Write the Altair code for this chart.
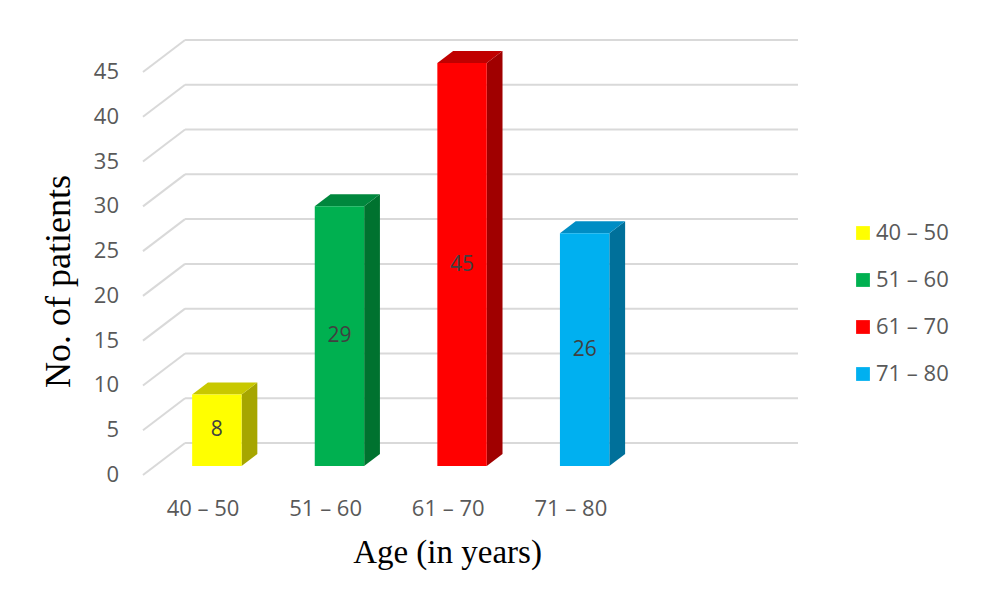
import altair as alt
import pandas as pd

# ---- data ----
categories = ["40 \u2013 50", "51 \u2013 60", "61 \u2013 70", "71 \u2013 80"]
patients = [8, 29, 45, 26]
front_colors = ["#FFFF00", "#00B050", "#FF0000", "#00B0F0"]
side_colors = ["#A6A600", "#00722F", "#A00000", "#00709A"]
top_colors = ["#C8C800", "#00873D", "#C00000", "#008DC4"]
y_ticks = [0, 5, 10, 15, 20, 25, 30, 35, 40, 45]

# ---- pseudo-3D geometry (style constants, in scale units) ----
N_BANDS = 5          # Excel leaves room for one more category
DX = 0.343           # horizontal depth of the floor (bands)
DY = 3.573           # vertical depth of the floor (value units)
Z0, Z1 = 0.28, 0.655 # bar front / back depth fractions
BL, BR = 0.305, 0.708  # bar left / right within band (front plane)
Y_MAX = max(y_ticks)

rows_front, rows_side, rows_top, rows_lab = [], [], [], []
for i, (c, v) in enumerate(zip(categories, patients)):
    l0, r0 = i + BL + Z0 * DX, i + BR + Z0 * DX
    l1, r1 = i + BL + Z1 * DX, i + BR + Z1 * DX
    b0, b1 = Z0 * DY, Z1 * DY
    t0, t1 = v + Z0 * DY, v + Z1 * DY
    rows_front.append(dict(cat=c, x=l0, x2=r0, y=b0, y2=t0))
    rows_side += [dict(cat=c, col=side_colors[i], x=r0, lo=b0, hi=t0),
                  dict(cat=c, col=side_colors[i], x=r1, lo=b1, hi=t1)]
    rows_top += [dict(cat=c, col=top_colors[i], x=l0, lo=t0, hi=t0),
                 dict(cat=c, col=top_colors[i], x=l1, lo=t0, hi=t1),
                 dict(cat=c, col=top_colors[i], x=r0, lo=t0, hi=t1),
                 dict(cat=c, col=top_colors[i], x=r1, lo=t1, hi=t1)]
    rows_lab.append(dict(x=(l0 + r0) / 2, y=v / 2 + Z0 * DY, text=str(v)))

front_df = pd.DataFrame(rows_front)
side_df = pd.DataFrame(rows_side)
top_df = pd.DataFrame(rows_top)
lab_df = pd.DataFrame(rows_lab)

back_df = pd.DataFrame(dict(x=[DX] * len(y_ticks), x2=[N_BANDS + DX] * len(y_ticks),
                            y=[t + DY for t in y_ticks], y2=[t + DY for t in y_ticks]))
diag_df = pd.DataFrame(dict(x=[0.0] * len(y_ticks), x2=[DX] * len(y_ticks),
                            y=[float(t) for t in y_ticks], y2=[t + DY for t in y_ticks]))
ytick_df = pd.DataFrame(dict(x=[0.0] * len(y_ticks), y=y_ticks, text=[str(t) for t in y_ticks]))
xlab_df = pd.DataFrame(dict(x=[i + 0.49 for i in range(len(categories))],
                            y=[0.0] * len(categories), text=categories))

xs = alt.Scale(domain=[0, N_BANDS + DX], nice=False, zero=False)
ys = alt.Scale(domain=[0, Y_MAX + DY], nice=False, zero=False)

x_axis = alt.Axis(title="Age (in years)", labels=False, ticks=False, domain=False, grid=False,
                  titleFont="Liberation Serif", titleFontSize=33, titleFontWeight="normal",
                  titleColor="#000000", titleX=304, titleY=87, titleAlign="center",
                  titleBaseline="alphabetic")
y_axis = alt.Axis(title="No. of patients", labels=False, ticks=False, domain=False, grid=False,
                  titleFont="Liberation Serif", titleFontSize=36, titleFontWeight="normal",
                  titleColor="#000000", titleX=-74, titleY=241, titleAngle=270,
                  titleAlign="center", titleBaseline="alphabetic")

X = lambda f="x": alt.X(f"{f}:Q", scale=xs, axis=x_axis)
Y = lambda f="y": alt.Y(f"{f}:Q", scale=ys, axis=y_axis)

grid_style = dict(color="#D9D9D9", strokeWidth=2)
back = alt.Chart(back_df).mark_rule(**grid_style).encode(x=X(), x2="x2:Q", y=Y(), y2="y2:Q")
diag = alt.Chart(diag_df).mark_rule(**grid_style).encode(x=X(), x2="x2:Q", y=Y(), y2="y2:Q")

side = alt.Chart(side_df).mark_area(interpolate="linear").encode(
    x=X(), y=alt.Y("lo:Q", scale=ys, axis=y_axis, stack=None), y2="hi:Q",
    color=alt.Color("col:N", scale=None), detail="cat:N")
top = alt.Chart(top_df).mark_area(interpolate="linear").encode(
    x=X(), y=alt.Y("lo:Q", scale=ys, axis=y_axis, stack=None), y2="hi:Q",
    color=alt.Color("col:N", scale=None), detail="cat:N")

front = alt.Chart(front_df).mark_rect().encode(
    x=X(), x2="x2:Q", y=Y(), y2="y2:Q",
    color=alt.Color("cat:N", sort=categories,
                    scale=alt.Scale(domain=categories, range=front_colors),
                    legend=alt.Legend(title=None, orient="none", legendX=709, legendY=182,
                                      symbolType="square", symbolSize=190, symbolStrokeWidth=0,
                                      labelFont="Open Sans", labelFontSize=22,
                                      labelColor="#595959", labelOffset=2, rowPadding=25,
                                      padding=0)))

labels = alt.Chart(lab_df).mark_text(font="Open Sans", fontSize=21, color="#404040",
                                     baseline="middle").encode(
    x=X(), y=Y(), text="text:N")

yticks = alt.Chart(ytick_df).mark_text(font="Open Sans", fontSize=22, color="#595959",
                                       align="right", baseline="middle", dx=-24).encode(
    x=X(), y=Y(), text="text:N")
xlabels = alt.Chart(xlab_df).mark_text(font="Open Sans", fontSize=22, color="#595959",
                                       align="center", baseline="alphabetic", dy=41).encode(
    x=X(), y=Y(), text="text:N")

chart = alt.layer(back, diag, side, top, front, labels, yticks, xlabels).properties(
    width=655, height=435,
    padding={"left": 135, "top": 32, "right": 180, "bottom": 123},
    autosize=alt.AutoSizeParams(type="none"),
    background="#FFFFFF",
).configure_view(strokeWidth=0)

chart.save("out.html", embed_options={"renderer": "svg", "actions": False})
